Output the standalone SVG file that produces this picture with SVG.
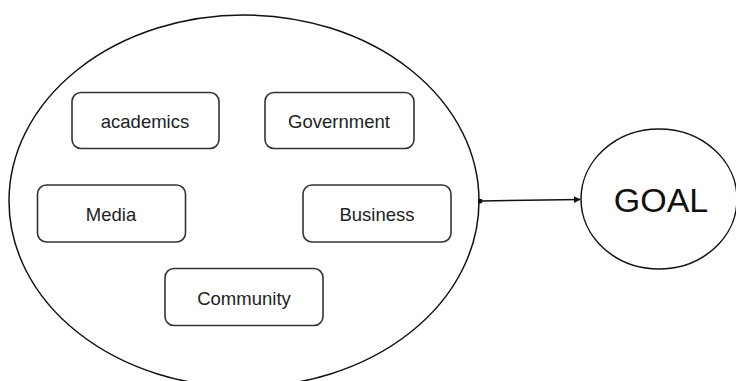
<svg xmlns="http://www.w3.org/2000/svg" width="736" height="381" viewBox="0 0 736 381">
<style>
.box{fill:#fff;stroke:#333;stroke-width:1.6}
.lbl{font-family:"Liberation Sans",Arial,sans-serif;font-size:18.5px;fill:#222;text-anchor:middle}
.oval{fill:#fff;stroke:#111;stroke-width:1.5}
</style>
<defs>
<marker id="ah" viewBox="0 0 10 10" refX="9" refY="5" markerWidth="7" markerHeight="7" markerUnits="userSpaceOnUse" orient="auto">
<path d="M0,0 L10,5 L0,10 z" fill="#111"/>
</marker>
<marker id="dot" viewBox="0 0 10 10" refX="5" refY="5" markerWidth="5" markerHeight="5" markerUnits="userSpaceOnUse">
<circle cx="5" cy="5" r="5" fill="#111"/>
</marker>
</defs>
<rect width="736" height="381" fill="#fff"/>
<g id="group"><ellipse class="oval" cx="244" cy="201" rx="235" ry="186"/></g>
<g id="goal"><ellipse class="oval" cx="659" cy="199" rx="78" ry="70"/><text x="661" y="212" style="font-family:'Liberation Sans',Arial,sans-serif;font-size:34px;fill:#111;text-anchor:middle">GOAL</text></g>
<g id="academics"><rect class="box" x="72" y="92.5" width="147" height="56" rx="9"/><text class="lbl" x="145" y="128">academics</text></g>
<g id="government"><rect class="box" x="265" y="92.5" width="149" height="56" rx="9"/><text class="lbl" x="339" y="128">Government</text></g>
<g id="media"><rect class="box" x="37.5" y="185" width="148" height="57" rx="9"/><text class="lbl" x="111" y="221">Media</text></g>
<g id="business"><rect class="box" x="303" y="185" width="148" height="57" rx="9"/><text class="lbl" x="377" y="221">Business</text></g>
<g id="community"><rect class="box" x="165" y="268.5" width="158" height="57" rx="9"/><text class="lbl" x="244" y="305">Community</text></g>
<g id="connectors"><line x1="480" y1="201" x2="580" y2="199.5" stroke="#111" stroke-width="1.5" marker-start="url(#dot)" marker-end="url(#ah)"/></g>
</svg>
